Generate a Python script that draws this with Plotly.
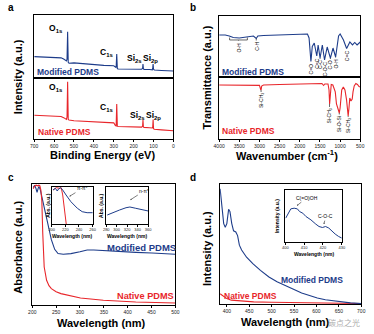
import plotly.graph_objects as go

W, H = 374, 334
NAVY = "#1d3c8a"
RED = "#e8262b"
FONT = "Liberation Sans"

# ---------------- (a) XPS survey ----------------
xps_be = [700, 600, 565, 552, 545, 538, 535, 532, 529, 525, 500, 450, 400, 350, 300,
          292, 288, 285, 282, 278, 250, 200, 160, 155, 153, 151, 148, 120, 106, 104,
          102, 100, 96, 60, 20, 0]
xps_modified = [0.34, 0.33, 0.32, 0.30, 0.285, 0.27, 0.30, 0.735, 0.25, 0.235, 0.24, 0.225,
                0.21, 0.20, 0.195, 0.17, 0.165, 0.38, 0.15, 0.143, 0.143, 0.14, 0.138, 0.15,
                0.22, 0.15, 0.137, 0.135, 0.13, 0.16, 0.22, 0.14, 0.127, 0.12, 0.113, 0.11]
xps_native = [0.39, 0.38, 0.37, 0.35, 0.33, 0.32, 0.36, 0.94, 0.32, 0.31, 0.30, 0.29, 0.285,
              0.275, 0.265, 0.22, 0.215, 0.575, 0.21, 0.205, 0.20, 0.20, 0.195, 0.21, 0.31,
              0.20, 0.19, 0.185, 0.18, 0.20, 0.32, 0.17, 0.16, 0.15, 0.14, 0.135]
xps_ticks = [700, 600, 500, 400, 300, 200, 100, 0]
xps_peaks_mod = [("O<sub>1s</sub>", 590, 0.78), ("C<sub>1s</sub>", 335, 0.40),
                 ("Si<sub>2s</sub>", 196, 0.31), ("Si<sub>2p</sub>", 113, 0.31)]
xps_peaks_nat = [("O<sub>1s</sub>", 590, 0.85), ("C<sub>1s</sub>", 335, 0.52),
                 ("Si<sub>2s</sub>", 181, 0.38), ("Si<sub>2p</sub>", 100, 0.38)]

# ---------------- (b) FTIR ----------------
ir_wn_mod = [4000, 3850, 3750, 3650, 3500, 3350, 3250, 3150, 3080, 3040, 2900, 2500, 2000,
             1810, 1770, 1724, 1690, 1641, 1579, 1545, 1497, 1441, 1386, 1320, 1241, 1176,
             1111, 1038, 999, 960, 917, 838, 758, 693, 637, 579, 517, 500]
ir_modified = [0.689, 0.689, 0.672, 0.648, 0.639, 0.648, 0.656, 0.672, 0.631, 0.672, 0.68,
               0.689, 0.697, 0.705, 0.64, 0.254, 0.50, 0.557, 0.344, 0.525, 0.311, 0.525,
               0.279, 0.492, 0.311, 0.475, 0.328, 0.672, 0.705, 0.656, 0.607, 0.467, 0.574,
               0.525, 0.566, 0.525, 0.579, 0.574]
ir_wn_nat = [4000, 3500, 3000, 2970, 2960, 2945, 2900, 2500, 2000, 1700, 1450, 1410, 1380,
             1300, 1275, 1260, 1245, 1220, 1180, 1120, 1090, 1050, 1020, 1000, 960, 920, 880,
             840, 800, 780, 760, 730, 700, 680, 650, 610, 570, 530, 500]
ir_native = [0.871, 0.868, 0.865, 0.80, 0.79, 0.855, 0.871, 0.879, 0.887, 0.895, 0.895,
             0.863, 0.887, 0.887, 0.79, 0.565, 0.76, 0.88, 0.871, 0.76, 0.565, 0.468, 0.42,
             0.50, 0.79, 0.84, 0.79, 0.63, 0.37, 0.50, 0.66, 0.613, 0.645, 0.76, 0.855,
             0.895, 0.88, 0.847, 0.839]
ir_ticks = [4000, 3500, 3000, 2500, 2000, 1500, 1000, 500]
# band labels: text, wavenumber, curve value at the band, offset of text centre (px)
ir_bands_mod = [("C-H", 3080, 0.631, 8), ("C=O", 1724, 0.254, 7), ("C=C", 1579, 0.344, 7),
                ("C-C", 1497, 0.311, 7), ("C-O-C", 1386, 0.279, 9), ("C-O", 1241, 0.311, 7),
                ("O-H", 1111, 0.328, 7), ("C=C", 838, 0.467, 7)]
ir_oh_band = (3740, 3300, 0.607)
ir_bands_nat = [("Si-CH<sub>3</sub>", 2960, 0.79, 11), ("Si-CH<sub>3</sub>", 1262, 0.565, 12),
                ("Si-O-Si", 1020, 0.42, 11), ("Si-CH<sub>3</sub>", 800, 0.37, 10)]

# ---------------- (c) UV-vis ----------------
uv_nm_mod = [202, 205, 208, 210, 212, 214, 217, 220, 223, 227, 230, 234, 240, 247, 254, 265,
             281, 300, 315, 329, 349, 383, 417, 451, 500]
uv_modified = [0.97, 0.99, 0.96, 0.93, 0.96, 0.98, 0.95, 0.90, 0.85, 0.78, 0.72, 0.64, 0.54,
               0.46, 0.425, 0.42, 0.425, 0.44, 0.455, 0.455, 0.45, 0.44, 0.435, 0.43, 0.42]
uv_nm_nat = [202, 205, 208, 211, 214, 216, 218, 220, 222, 225, 230, 235, 240, 250, 260, 280,
             301, 349, 417, 500]
uv_native = [0.96, 0.985, 0.99, 0.985, 0.99, 0.985, 0.95, 0.865, 0.59, 0.314, 0.204, 0.16,
             0.135, 0.11, 0.094, 0.075, 0.058, 0.039, 0.025, 0.017]
uv_ticks = [200, 250, 300, 350, 400, 450, 500]

inset1_nm_mod = [201.9, 205.3, 208.1, 210, 212.9, 216.1, 221, 228.1, 237.6, 244.7, 251.9, 260.4]
inset1_mod = [0.923, 0.967, 0.897, 0.949, 0.982, 0.923, 0.795, 0.623, 0.454, 0.367, 0.341, 0.341]
inset1_nm_nat = [201.9, 206.7, 211.4, 213.9, 216.1, 218.6, 221, 223]
inset1_nat = [0.923, 0.982, 0.967, 0.982, 0.795, 0.454, 0.044, -0.2]
inset1_ticks = [200, 220, 240, 260]
inset2_nm = [281.9, 293, 305.5, 317.8, 325.2, 336.4, 348.8, 360]
inset2_mod = [0.282, 0.351, 0.41, 0.469, 0.487, 0.454, 0.41, 0.385]
inset2_ticks = [280, 300, 320, 340, 360]

# ---------------- (d) photoluminescence ----------------
pl_nm_mod = [385, 389, 393, 396.5, 400, 404, 407, 411, 415, 420, 424, 428, 433, 444, 458, 475,
             494, 512, 531, 550, 567, 585, 602, 620, 639, 657, 676, 700]
pl_modified = [0.96, 0.81, 0.67, 0.64, 0.67, 0.79, 0.77, 0.67, 0.61, 0.60, 0.57, 0.49, 0.45,
               0.39, 0.336, 0.28, 0.225, 0.185, 0.15, 0.12, 0.092, 0.068, 0.05, 0.036, 0.025,
               0.016, 0.009, 0.004]
pl_nm_nat = [385, 390, 395, 400, 410, 430, 460, 500, 550, 600, 650, 700]
pl_native = [0.085, 0.07, 0.055, 0.045, 0.032, 0.024, 0.018, 0.014, 0.011, 0.008, 0.006, 0.004]
pl_ticks = [400, 450, 500, 550, 600, 650, 700]
pl_inset_nm = [400.2, 401.6, 402.9, 404.7, 406.4, 407.6, 409.3, 411, 413.6, 416.2, 417.9,
               419.7, 421.4, 423.1, 424.8, 426.5, 428.3, 430]
pl_inset = [0.459, 0.554, 0.637, 0.65, 0.637, 0.585, 0.554, 0.489, 0.426, 0.344, 0.298,
            0.279, 0.298, 0.268, 0.203, 0.153, 0.107, 0.076]
pl_inset_ticks = [400, 410, 420, 430]


def xd(l, r):
    return [l / W, r / W]


def yd(t, b):
    return [1 - b / H, 1 - t / H]


def px(x):
    return x / W


def py(y):
    return 1 - y / H


fig = go.Figure()
layout = {}


def add_axes(n, xpx, ypx, xr, yr, tickvals=None, tsize=5, ticklen=2):
    s = "" if n == 1 else str(n)
    layout["xaxis" + s] = dict(
        domain=xd(*xpx), anchor="y" + s, range=xr, showline=True, mirror=True,
        linecolor="black", linewidth=1, showgrid=False, zeroline=False,
        ticks="outside" if tickvals else "", tickvals=tickvals,
        showticklabels=tickvals is not None, ticklen=ticklen, tickwidth=0.8,
        tickcolor="black", tickfont=dict(family=FONT, size=tsize, color="#222"),
        fixedrange=True)
    layout["yaxis" + s] = dict(
        domain=yd(*ypx), anchor="x" + s, range=yr, showline=True, mirror=True,
        linecolor="black", linewidth=1, showgrid=False, zeroline=False,
        showticklabels=False, ticks="", fixedrange=True)


def line(x, y, color, n, width=1.1):
    s = "" if n == 1 else str(n)
    fig.add_trace(go.Scatter(x=x, y=y, mode="lines", line=dict(color=color, width=width),
                             xaxis="x" + s, yaxis="y" + s, showlegend=False,
                             hoverinfo="skip"))


anns = []


def text(t, x, y, size=8, color="black", bold=True, angle=0, xanchor="center",
         yanchor="middle", xref="paper", yref="paper", family=FONT):
    anns.append(dict(text=f"<b>{t}</b>" if bold else t, x=x, y=y, xref=xref, yref=yref,
                     showarrow=False, textangle=angle, xanchor=xanchor, yanchor=yanchor,
                     font=dict(family=family, size=size, color=color)))


def pointer(t, x, y, n, ax, ay, size=5, angle=0, width=0.6, head=0):
    s = "" if n == 1 else str(n)
    anns.append(dict(text=t, x=x, y=y, xref="x" + s, yref="y" + s, showarrow=True,
                     arrowhead=head, arrowsize=0.5, arrowwidth=width, arrowcolor="black",
                     ax=ax, ay=ay, textangle=angle, standoff=0, startstandoff=0,
                     font=dict(family=FONT, size=size, color="black")))


# ---- panel a ----
add_axes(1, (29, 172), (15, 78), [700, 0], [0, 1])
add_axes(2, (29, 172), (78, 139), [700, 0], [0, 1], tickvals=xps_ticks)
line(xps_be, xps_modified, NAVY, 1)
line(xps_be, xps_native, RED, 2)
for lab, x, y in xps_peaks_mod:
    text(lab, x, y, size=8.5, xref="x", yref="y")
for lab, x, y in xps_peaks_nat:
    text(lab, x, y, size=8.5, xref="x2", yref="y2")
text("Modified PDMS", px(30), py(72), size=8.5, color=NAVY, xanchor="left")
text("Native PDMS", px(31), py(132), size=8.5, color=RED, xanchor="left")
text("Intensity (a.u.)", px(12.5), py(77), size=11, angle=-90)
text("Binding Energy (eV)", px(99), py(155), size=11)
text("a", px(5), py(7), size=10)

# ---- panel b ----
add_axes(3, (219, 364), (16, 77), [4000, 500], [0, 1])
add_axes(4, (219, 364), (77, 139), [4000, 500], [0, 1], tickvals=ir_ticks)
line(ir_wn_mod, ir_modified, NAVY, 3)
line(ir_wn_nat, ir_native, RED, 4)
for lab, x, y, off in ir_bands_mod:
    pointer(lab, x, y, 3, 0, off, angle=-90)
x0, x1, yb = ir_oh_band
fig.add_shape(type="path", xref="x3", yref="y3",
              path=f"M {x0} {yb + 0.04} L {x0} {yb} L {x1} {yb} L {x1} {yb + 0.04}",
              line=dict(color="black", width=0.6))
pointer("O-H", (x0 + x1) / 2, yb, 3, 0, 7, angle=-90)
for lab, x, y, off in ir_bands_nat:
    pointer(lab, x, y, 4, 0, off, angle=-90)
text("Modified PDMS", px(220), py(72), size=8.5, color=NAVY, xanchor="left")
text("Native PDMS", px(220), py(131), size=8.5, color=RED, xanchor="left")
text("Transmittance (a.u.)", px(207), py(77), size=11, angle=-90)
text("Wavenumber (cm<sup>-1</sup>)", px(289), py(155), size=11)
text("b", px(192), py(7), size=10)

# ---- panel c ----
add_axes(5, (27, 174), (184, 305), [200, 500], [0, 1], tickvals=uv_ticks)
line(uv_nm_mod, uv_modified, NAVY, 5)
line(uv_nm_nat, uv_native, RED, 5)
ins_yr = [(226 - 224) / 39, 1.0]
add_axes(6, (47, 89), (187, 224), [200, 260], ins_yr, tickvals=inset1_ticks, tsize=4,
         ticklen=1.5)
line(inset1_nm_nat, inset1_nat, RED, 6, width=1)
line(inset1_nm_mod, inset1_mod, NAVY, 6, width=1)
add_axes(7, (103, 146), (187, 224), [280, 360], ins_yr, tickvals=inset2_ticks, tsize=4,
         ticklen=1.5)
line(inset2_nm, inset2_mod, NAVY, 7, width=1)
pointer("π-π*", 226, 0.76, 6, 13, -8, width=0.5, head=2)
pointer("n-π*", 326, 0.67, 7, 14, -9, width=0.5, head=2)
for cx in (68, 124.5):
    text("Wavelength (nm)", px(cx), py(235.5), size=5)
for cx in (43, 97.5):
    text("Abs. (a.u.)", px(cx), py(205), size=5, angle=-90)
text("Modified PDMS", px(177), py(247), size=9.5, color=NAVY, xanchor="right")
text("Native PDMS", px(175), py(296), size=9.2, color=RED, xanchor="right")
text("Absorbance (a.u.)", px(12), py(247), size=11, angle=-90)
text("Wavelength (nm)", px(98), py(322.5), size=11)
text("c", px(5), py(177), size=10)

# ---- panel d ----
add_axes(8, (220, 365), (184, 304), [385, 700], [0, 1], tickvals=pl_ticks)
line(pl_nm_nat, pl_native, RED, 8)
line(pl_nm_mod, pl_modified, NAVY, 8)
add_axes(9, (287, 345), (190, 242), [400, 430], [0, 1.0], tickvals=pl_inset_ticks, tsize=4,
         ticklen=1.5)
line(pl_inset_nm, pl_inset, NAVY, 9, width=1)
pointer("C(=O)OH", 406.2, 0.70, 9, 10, -8, width=0.5, head=2)
pointer("C-O-C", 420.5, 0.344, 9, 2, -8, width=0.5, head=2)
text("Wavelength (nm)", px(316), py(253.5), size=5)
text("Intensity (a.u.)", px(278.5), py(216), size=5, angle=-90)
text("Modified PDMS", px(314), py(280), size=8.5, color=NAVY)
text("Native PDMS", px(251), py(296), size=8.5, color=RED)
text("Intensity (a.u.)", px(207), py(248.5), size=11, angle=-90)
text("Wavelength (nm)", px(287), py(322), size=11)
text("d", px(192), py(177), size=10)

text("碳点之光", px(347), py(322), size=8, color="rgba(140,140,140,0.75)", bold=False,
     family="Noto Sans CJK SC")

fig.update_layout(
    width=W, height=H, margin=dict(l=0, r=0, t=0, b=0), autosize=False,
    paper_bgcolor="white", plot_bgcolor="white", annotations=anns,
    font=dict(family=FONT), **layout)

fig.write_html("out.html")
